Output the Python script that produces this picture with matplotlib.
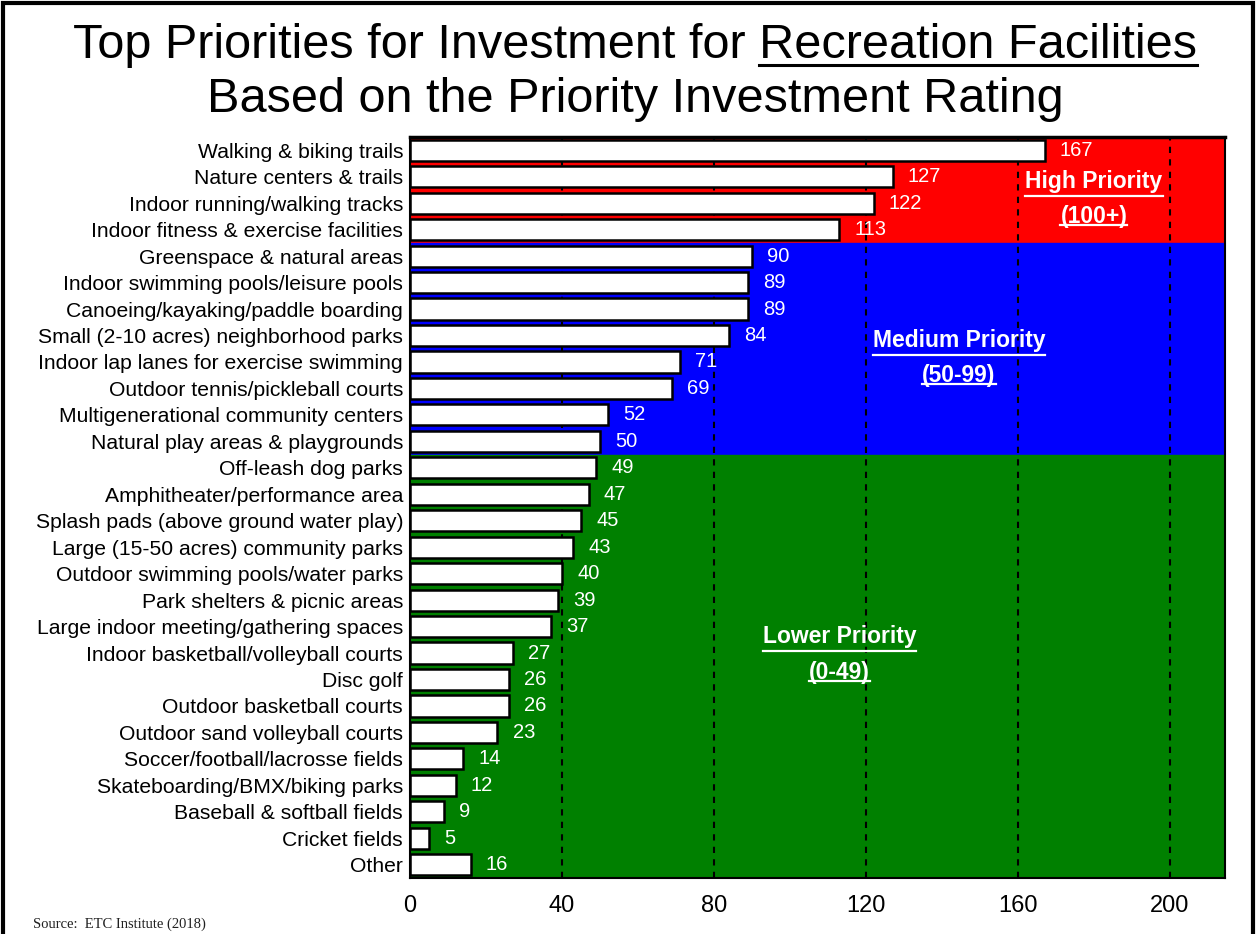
import matplotlib.pyplot as plt
from matplotlib.patches import Rectangle
from matplotlib.lines import Line2D

categories = [
    "Walking & biking trails", "Nature centers & trails", "Indoor running/walking tracks",
    "Indoor fitness & exercise facilities", "Greenspace & natural areas",
    "Indoor swimming pools/leisure pools", "Canoeing/kayaking/paddle boarding",
    "Small (2-10 acres) neighborhood parks", "Indoor lap lanes for exercise swimming",
    "Outdoor tennis/pickleball courts", "Multigenerational community centers",
    "Natural play areas & playgrounds", "Off-leash dog parks", "Amphitheater/performance area",
    "Splash pads (above ground water play)", "Large (15-50 acres) community parks",
    "Outdoor swimming pools/water parks", "Park shelters & picnic areas",
    "Large indoor meeting/gathering spaces", "Indoor basketball/volleyball courts",
    "Disc golf", "Outdoor basketball courts", "Outdoor sand volleyball courts",
    "Soccer/football/lacrosse fields", "Skateboarding/BMX/biking parks",
    "Baseball & softball fields", "Cricket fields", "Other",
]
values = [167, 127, 122, 113, 90, 89, 89, 84, 71, 69, 52, 50, 49, 47, 45, 43, 40, 39, 37,
          27, 26, 26, 23, 14, 12, 9, 5, 16]

# priority bands: (first row, last row, colour, label)
bands = [
    (0, 3, "#ff0000", "High Priority\n(100+)"),
    (4, 11, "#0000ff", "Medium Priority\n(50-99)"),
    (12, 27, "#008000", "Lower Priority\n(0-49)"),
]
band_label_x = [180, 144.5, 113]
band_label_y = [1.85, 7.85, 19.05]

plt.rcParams["font.family"] = ["Liberation Sans", "DejaVu Sans"]
LABEL_FS = 16.5

fig = plt.figure(figsize=(12.58, 9.34), dpi=100)
ax = fig.add_axes([410 / 1258, 1 - 878 / 934, 815 / 1258, 741 / 934])

n = len(categories)
xmax = 214.5
for (a, b, c, lab), lx, ly in zip(bands, band_label_x, band_label_y):
    ax.add_patch(Rectangle((0, a - 0.5), xmax, b - a + 1, color=c, zorder=0))
    t = ax.text(lx, ly, lab, color="white", fontsize=LABEL_FS, fontweight="bold",
                ha="center", va="center", linespacing=1.7, zorder=4)

for x in [40, 80, 120, 160, 200]:
    ax.axvline(x, color="black", ls=(0, (3, 3)), lw=1.5, zorder=1)

y = list(range(n))
ax.barh(y, values, height=0.8, color="white", edgecolor="black", linewidth=1.8, zorder=2)
for yi, v in zip(y, values):
    ax.text(v + 4, yi, str(v), color="white", fontsize=14.5, va="center", ha="left", zorder=3)

ax.set_xlim(0, xmax)
ax.set_ylim(n - 0.5, -0.5)
ax.set_yticks(y)
ax.set_yticklabels(categories, fontsize=15.2)
ax.set_xticks([0, 40, 80, 120, 160, 200])
ax.tick_params(axis="x", labelsize=17, length=0, pad=12)
ax.tick_params(axis="y", length=0, pad=5)
for s in ax.spines.values():
    s.set_linewidth(1.5)
ax.spines["top"].set_linewidth(2.5)

TITLE_FS = 35
fig.text(0.505, 1 - 45 / 934, "Top Priorities for Investment for Recreation Facilities",
         ha="center", va="center", fontsize=TITLE_FS)
fig.text(0.505, 1 - 100 / 934, "Based on the Priority Investment Rating",
         ha="center", va="center", fontsize=TITLE_FS)
fig.text(33 / 1258, 1 - 924 / 934, "Source:  ETC Institute (2018)", fontsize=10.5,
         family=["Liberation Serif"], va="center", color="#202020")

# underline "Recreation Facilities" and the band labels
fig.canvas.draw()
r = fig.canvas.get_renderer()
t1 = fig.texts[0]
full = t1.get_window_extent(r)
tmp = fig.text(0, 0, "Recreation Facilities", fontsize=TITLE_FS)
w = tmp.get_window_extent(r).width
tmp.remove()
y0 = (full.y0 + 3) / fig.bbox.height
fig.add_artist(Line2D([(full.x1 - w) / fig.bbox.width, full.x1 / fig.bbox.width], [y0, y0],
                      color="black", lw=2.2))

for t in ax.texts:
    if "\n" not in t.get_text():
        continue
    lines = t.get_text().split("\n")
    bb = t.get_window_extent(r)
    h = bb.height / 2
    for i, ln in enumerate(lines):
        tmp = fig.text(0, 0, ln, fontsize=LABEL_FS, fontweight="bold")
        lw = tmp.get_window_extent(r).width
        tmp.remove()
        cx = (bb.x0 + bb.x1) / 2
        yy = bb.y1 - h * (i + 1) + 3
        fig.add_artist(Line2D([(cx - lw / 2) / fig.bbox.width, (cx + lw / 2) / fig.bbox.width],
                              [yy / fig.bbox.height] * 2, color="white", lw=1.6, zorder=5))

fig.add_artist(Rectangle((3 / 1258, -0.05), 1250 / 1258, 1.047, fill=False,
                         edgecolor="black", lw=3, transform=fig.transFigure))

fig.savefig("out.png", dpi=100)
